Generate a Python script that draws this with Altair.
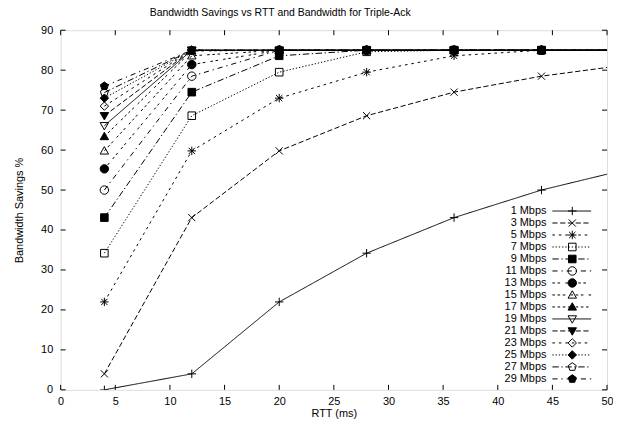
import altair as alt
import pandas as pd

# ---------------- data ----------------
rtt = [4, 12, 20, 28, 36, 44, 52]
names = ["1 Mbps", "3 Mbps", "5 Mbps", "7 Mbps", "9 Mbps", "11 Mbps", "13 Mbps",
         "15 Mbps", "17 Mbps", "19 Mbps", "21 Mbps", "23 Mbps", "25 Mbps",
         "27 Mbps", "29 Mbps"]
s1 = [0.0, 4.0, 22.0, 34.2, 43.1, 50.0, 55.3]
s3 = [4.0, 43.1, 59.8, 68.6, 74.5, 78.5, 81.4]
s5 = [22.0, 59.8, 73.0, 79.5, 83.6, 85.0, 85.0]
s7 = [34.2, 68.6, 79.5, 84.6, 85.0, 85.0, 85.0]
s9 = [43.1, 74.5, 83.6, 85.0, 85.0, 85.0, 85.0]
s11 = [50.0, 78.5, 85.0, 85.0, 85.0, 85.0, 85.0]
s13 = [55.3, 81.4, 85.0, 85.0, 85.0, 85.0, 85.0]
s15 = [59.8, 83.6, 85.0, 85.0, 85.0, 85.0, 85.0]
s17 = [63.4, 84.8, 85.0, 85.0, 85.0, 85.0, 85.0]
s19 = [66.1, 85.0, 85.0, 85.0, 85.0, 85.0, 85.0]
s21 = [68.6, 85.0, 85.0, 85.0, 85.0, 85.0, 85.0]
s23 = [71.0, 85.0, 85.0, 85.0, 85.0, 85.0, 85.0]
s25 = [73.0, 85.0, 85.0, 85.0, 85.0, 85.0, 85.0]
s27 = [74.4, 85.0, 85.0, 85.0, 85.0, 85.0, 85.0]
s29 = [76.0, 85.0, 85.0, 85.0, 85.0, 85.0, 85.0]
series_values = [s1, s3, s5, s7, s9, s11, s13, s15, s17, s19, s21, s23, s25, s27, s29]

x_ticks = [0, 5, 10, 15, 20, 25, 30, 35, 40, 45, 50]
y_ticks = [0, 10, 20, 30, 40, 50, 60, 70, 80, 90]

rows = []
for name, vals in zip(names, series_values):
    for r, v in zip(rtt, vals):
        rows.append({"series": name, "rtt": r, "savings": v})
df = pd.DataFrame(rows)

# ---------------- styles ----------------
W, H = 550, 362
FONT = "Liberation Sans"

PLUS = "M-1,0L1,0M0,-1L0,1"
XMARK = "M-0.85,-0.85L0.85,0.85M-0.85,0.85L0.85,-0.85"
STAR = "M-1,0L1,0M0,-1L0,1M-0.75,-0.75L0.75,0.75M-0.75,0.75L0.75,-0.75"
SQUARE = "M-0.9,-0.9L0.9,-0.9L0.9,0.9L-0.9,0.9Z"
TRI_UP = "M0,-1L1,0.75L-1,0.75Z"
TRI_DN = "M0,1L1,-0.75L-1,-0.75Z"
DIAMOND = "M0,-1L1,0L0,1L-1,0Z"
PENTA = "M0,-1L0.95,-0.31L0.59,0.81L-0.59,0.81L-0.95,-0.31Z"

shapes = [PLUS, XMARK, STAR, SQUARE, SQUARE, "circle", "circle", TRI_UP, TRI_UP,
          TRI_DN, TRI_DN, DIAMOND, DIAMOND, PENTA, PENTA]
fills = ["transparent", "transparent", "transparent", "transparent", "black",
         "transparent", "black", "transparent", "black", "transparent", "black",
         "transparent", "black", "transparent", "black"]
d = 1.3
base_dashes = [[1, 0], [4, 2], [2, 3], [1, 1.5], [5, 2, 1, 2], [4, 3, 1, 3],
               [2, 2, 2, 4], [2, 2, 2, 2, 2, 4], [2, 2, 2, 2, 2, 2, 2, 4]]
dashes = []
for i in range(len(names)):
    pat = base_dashes[i % 9]
    dashes.append([p * d for p in pat] if i % 9 else [1, 0])

shape_enc = alt.Shape("series:N", scale=alt.Scale(domain=names, range=shapes), legend=None)
fill_enc = alt.Fill("series:N", scale=alt.Scale(domain=names, range=fills), legend=None)
dash_enc = alt.StrokeDash("series:N", scale=alt.Scale(domain=names, range=dashes), legend=None)

x_axis = alt.Axis(values=x_ticks, tickSize=0, domain=False, grid=False, labelPadding=6,
                  labelFontSize=11, labelColor="black", labelFont=FONT, title="RTT (ms)",
                  titleFontSize=11, titleFontWeight="normal", titleColor="black",
                  titleFont=FONT, titlePadding=1, labelFlush=False)
y_axis = alt.Axis(values=y_ticks, tickSize=0, domain=False, grid=False, labelPadding=8,
                  labelFontSize=11, labelColor="black", labelFont=FONT,
                  title="Bandwidth Savings %", titleFontSize=11, titleFontWeight="normal",
                  titleColor="black", titleFont=FONT, titlePadding=16, labelFlush=False)

x_enc = alt.X("rtt:Q", scale=alt.Scale(domain=[0, 50], nice=False, zero=False), axis=x_axis)
y_enc = alt.Y("savings:Q", scale=alt.Scale(domain=[0, 90], nice=False), axis=y_axis)

base = alt.Chart(df)
lines = base.mark_line(clip=True, strokeWidth=1, color="black").encode(
    x=x_enc, y=y_enc, strokeDash=dash_enc, detail="series:N")
points = base.mark_point(clip=True, filled=False, stroke="black", strokeWidth=1,
                         opacity=1, size=72).encode(
    x=x_enc, y=y_enc, shape=shape_enc, fill=fill_enc)

tx = pd.DataFrame({"rtt": x_ticks})
ty = pd.DataFrame({"savings": y_ticks})
tick_bottom = alt.Chart(tx).mark_rule(color="black", strokeWidth=1).encode(
    x=x_enc, y=alt.value(H), y2=alt.value(H - 5))
tick_top = alt.Chart(tx).mark_rule(color="black", strokeWidth=1).encode(
    x=x_enc, y=alt.value(0), y2=alt.value(5))
tick_left = alt.Chart(ty).mark_rule(color="black", strokeWidth=1).encode(
    y=y_enc, x=alt.value(0), x2=alt.value(5))
tick_right = alt.Chart(ty).mark_rule(color="black", strokeWidth=1).encode(
    y=y_enc, x=alt.value(W), x2=alt.value(W - 5))

main = alt.layer(lines, points, tick_bottom, tick_top, tick_left, tick_right)

# ---------------- key ----------------
ldf = pd.DataFrame({"series": names})
leg_y = alt.Y("series:N", scale=alt.Scale(type="point", domain=names, range=[182, 351],
                                          padding=0), axis=None)
leg_text = alt.Chart(ldf).mark_text(align="right", baseline="middle", fontSize=11,
                                    font=FONT, color="black").encode(
    x=alt.value(489), y=leg_y, text="series:N")
leg_rule = alt.Chart(ldf).mark_rule(color="black", strokeWidth=1).encode(
    x=alt.value(495), x2=alt.value(534), y=leg_y, strokeDash=dash_enc)
leg_pts = alt.Chart(ldf).mark_point(filled=False, stroke="black", strokeWidth=1,
                                    opacity=1, size=72).encode(
    x=alt.value(515), y=leg_y, shape=shape_enc, fill=fill_enc)
key = alt.layer(leg_text, leg_rule, leg_pts)

chart = alt.layer(main, key).resolve_scale(y="independent").properties(
    width=W, height=H,
    title=alt.TitleParams("Bandwidth Savings vs RTT and Bandwidth for Triple-Ack",
                          fontSize=10.5, fontWeight="normal", font=FONT, color="black",
                          anchor="middle", dx=-54, dy=2, offset=8),
    autosize=alt.AutoSizeParams(type="none"),
    padding={"left": 53, "top": 21, "right": 6, "bottom": 30},
).configure_view(stroke="black", strokeWidth=1).configure(background="white")

chart.save("out.html", embed_options={"renderer": "svg", "actions": False})
